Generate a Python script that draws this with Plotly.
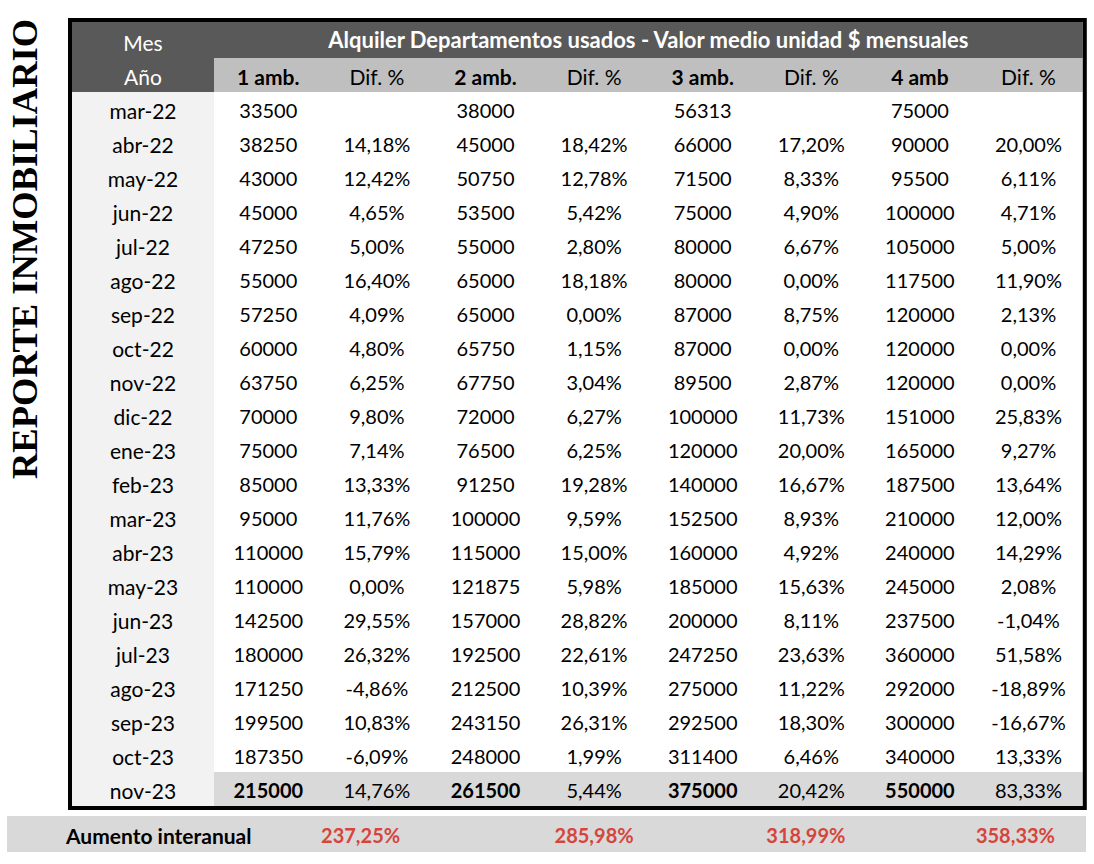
import plotly.graph_objects as go

# ---------------- data ----------------
months = ["mar-22", "abr-22", "may-22", "jun-22", "jul-22", "ago-22", "sep-22", "oct-22",
          "nov-22", "dic-22", "ene-23", "feb-23", "mar-23", "abr-23", "may-23", "jun-23",
          "jul-23", "ago-23", "sep-23", "oct-23", "nov-23"]
amb1 = [33500, 38250, 43000, 45000, 47250, 55000, 57250, 60000, 63750, 70000, 75000,
        85000, 95000, 110000, 110000, 142500, 180000, 171250, 199500, 187350, 215000]
dif1 = [None, 14.18, 12.42, 4.65, 5.00, 16.40, 4.09, 4.80, 6.25, 9.80, 7.14,
        13.33, 11.76, 15.79, 0.00, 29.55, 26.32, -4.86, 10.83, -6.09, 14.76]
amb2 = [38000, 45000, 50750, 53500, 55000, 65000, 65000, 65750, 67750, 72000, 76500,
        91250, 100000, 115000, 121875, 157000, 192500, 212500, 243150, 248000, 261500]
dif2 = [None, 18.42, 12.78, 5.42, 2.80, 18.18, 0.00, 1.15, 3.04, 6.27, 6.25,
        19.28, 9.59, 15.00, 5.98, 28.82, 22.61, 10.39, 26.31, 1.99, 5.44]
amb3 = [56313, 66000, 71500, 75000, 80000, 80000, 87000, 87000, 89500, 100000, 120000,
        140000, 152500, 160000, 185000, 200000, 247250, 275000, 292500, 311400, 375000]
dif3 = [None, 17.20, 8.33, 4.90, 6.67, 0.00, 8.75, 0.00, 2.87, 11.73, 20.00,
        16.67, 8.93, 4.92, 15.63, 8.11, 23.63, 11.22, 18.30, 6.46, 20.42]
amb4 = [75000, 90000, 95500, 100000, 105000, 117500, 120000, 120000, 120000, 151000, 165000,
        187500, 210000, 240000, 245000, 237500, 360000, 292000, 300000, 340000, 550000]
dif4 = [None, 20.00, 6.11, 4.71, 5.00, 11.90, 2.13, 0.00, 0.00, 25.83, 9.27,
        13.64, 12.00, 14.29, 2.08, -1.04, 51.58, -18.89, -16.67, 13.33, 83.33]
interanual = [237.25, 285.98, 318.99, 358.33]
col_labels = ["1 amb.", "Dif. %", "2 amb.", "Dif. %", "3 amb.", "Dif. %", "4 amb", "Dif. %"]
title_text = "Alquiler Departamentos usados - Valor medio unidad $ mensuales"
head1_text = "Mes"
head2_text = "Año"
band_label = "Aumento interanual"
side_text = "REPORTE INMOBILIARIO"

# ---------------- styles ----------------
FONT = "Lato"
FS = 20
FS_LBL = 21
DARK = "#595959"
HEAD2 = "#bfbfbf"
FIRSTCOL = "#f2f2f2"
LASTROW = "#d9d9d9"
BAND = "#d9d9d9"
RED = "#d6453c"
W, H = 1094, 864
COLW = 108.6      # px per value column
ROWH = 34.0       # px per row
X0PX, Y0PX = 214, 92   # pixel origin of data area
FIRSTW = 142 / COLW

def fmt_pct(v):
    return "" if v is None else f"{v:.2f}%".replace(".", ",")

n = len(months)
value_cols = [amb1, dif1, amb2, dif2, amb3, dif3, amb4, dif4]

fig = go.Figure()
shapes = []
# header backgrounds
shapes.append(dict(type="rect", x0=-FIRSTW, x1=8, y0=-2.1, y1=-1, fillcolor=DARK, line_width=0, layer="below"))
shapes.append(dict(type="rect", x0=-FIRSTW, x1=0, y0=-1, y1=0, fillcolor=DARK, line_width=0, layer="below"))
shapes.append(dict(type="rect", x0=0, x1=8, y0=-1, y1=0, fillcolor=HEAD2, line_width=0, layer="below"))
# first column and last row
shapes.append(dict(type="rect", x0=-FIRSTW, x1=0, y0=0, y1=n, fillcolor=FIRSTCOL, line_width=0, layer="below"))
shapes.append(dict(type="rect", x0=0, x1=8, y0=n - 1, y1=n, fillcolor=LASTROW, line_width=0, layer="below"))
# bottom band
shapes.append(dict(type="rect", x0=(7 - X0PX) / COLW, x1=(1086 - X0PX) / COLW,
                   y0=(816 - Y0PX) / ROWH, y1=(852 - Y0PX) / ROWH,
                   fillcolor=BAND, line_width=0, layer="below"))
# outer border
bx = 2 / COLW
by = 2 / ROWH
shapes.append(dict(type="rect", x0=-FIRSTW - bx, x1=8 + bx, y0=-2.06 - by, y1=n + by,
                   line=dict(color="black", width=4), fillcolor="rgba(0,0,0,0)", layer="above"))

TOFF = 0.13  # slight downward text offset, in rows

# header texts
fig.add_trace(go.Scatter(x=[-FIRSTW / 2, -FIRSTW / 2], y=[-1.5 + TOFF, -0.5 + TOFF],
                         text=[head1_text, head2_text], mode="text",
                         textfont=dict(family=FONT, size=FS_LBL, color="white")))
fig.add_trace(go.Scatter(x=[4], y=[-1.6 + TOFF], text=[f"<b>{title_text}</b>"], mode="text",
                         textfont=dict(family=FONT, size=22, color="white")))
fig.add_trace(go.Scatter(x=[j + 0.5 for j in range(8)], y=[-0.5 + TOFF] * 8,
                         text=[f"<b>{t}</b>" if j % 2 == 0 else t for j, t in enumerate(col_labels)],
                         mode="text", textfont=dict(family=FONT, size=FS_LBL, color="black")))

# month column
fig.add_trace(go.Scatter(x=[-FIRSTW / 2] * n, y=[i + 0.5 + TOFF for i in range(n)], text=months,
                         mode="text", textfont=dict(family=FONT, size=FS_LBL, color="black")))

# value columns
for j, col in enumerate(value_cols):
    if j % 2 == 0:
        txt = [f"<b>{v}</b>" if i == n - 1 else str(v) for i, v in enumerate(col)]
    else:
        txt = [fmt_pct(v) for v in col]
    fig.add_trace(go.Scatter(x=[j + 0.5] * n, y=[i + 0.5 + TOFF for i in range(n)], text=txt,
                             mode="text", textfont=dict(family=FONT, size=FS, color="black")))

# bottom band
band_y = (834 - Y0PX) / ROWH + TOFF
fig.add_trace(go.Scatter(x=[(66 - X0PX) / COLW], y=[band_y], text=[f"<b>{band_label}</b>"],
                         mode="text", textposition="middle right",
                         textfont=dict(family=FONT, size=FS_LBL, color="black")))
band_shift = [-0.15, 0.0, -0.05, -0.12]
fig.add_trace(go.Scatter(x=[2 * k + 1.5 + band_shift[k] for k in range(4)], y=[band_y] * 4,
                         text=[f"<b>{fmt_pct(v)}</b>" for v in interanual], mode="text",
                         textfont=dict(family=FONT, size=FS, color=RED)))

fig.add_annotation(x=(24 - X0PX) / COLW, y=(249 - Y0PX) / ROWH, xref="x", yref="y",
                   text=f"<b>{side_text}</b>", textangle=-90, showarrow=False,
                   font=dict(family="Liberation Serif", size=36.5, color="black"))

fig.update_layout(
    width=W, height=H, margin=dict(l=0, r=0, t=0, b=0),
    paper_bgcolor="white", plot_bgcolor="white", showlegend=False,
    shapes=shapes,
    xaxis=dict(range=[-X0PX / COLW, (W - X0PX) / COLW], visible=False, fixedrange=True),
    yaxis=dict(range=[(H - Y0PX) / ROWH, -Y0PX / ROWH], visible=False, fixedrange=True),
)
fig.update_traces(hoverinfo="skip", cliponaxis=False)
fig.write_html("out.html", config={"displayModeBar": False},
               post_script="document.body.style.margin='0';document.body.style.overflow='hidden';")
